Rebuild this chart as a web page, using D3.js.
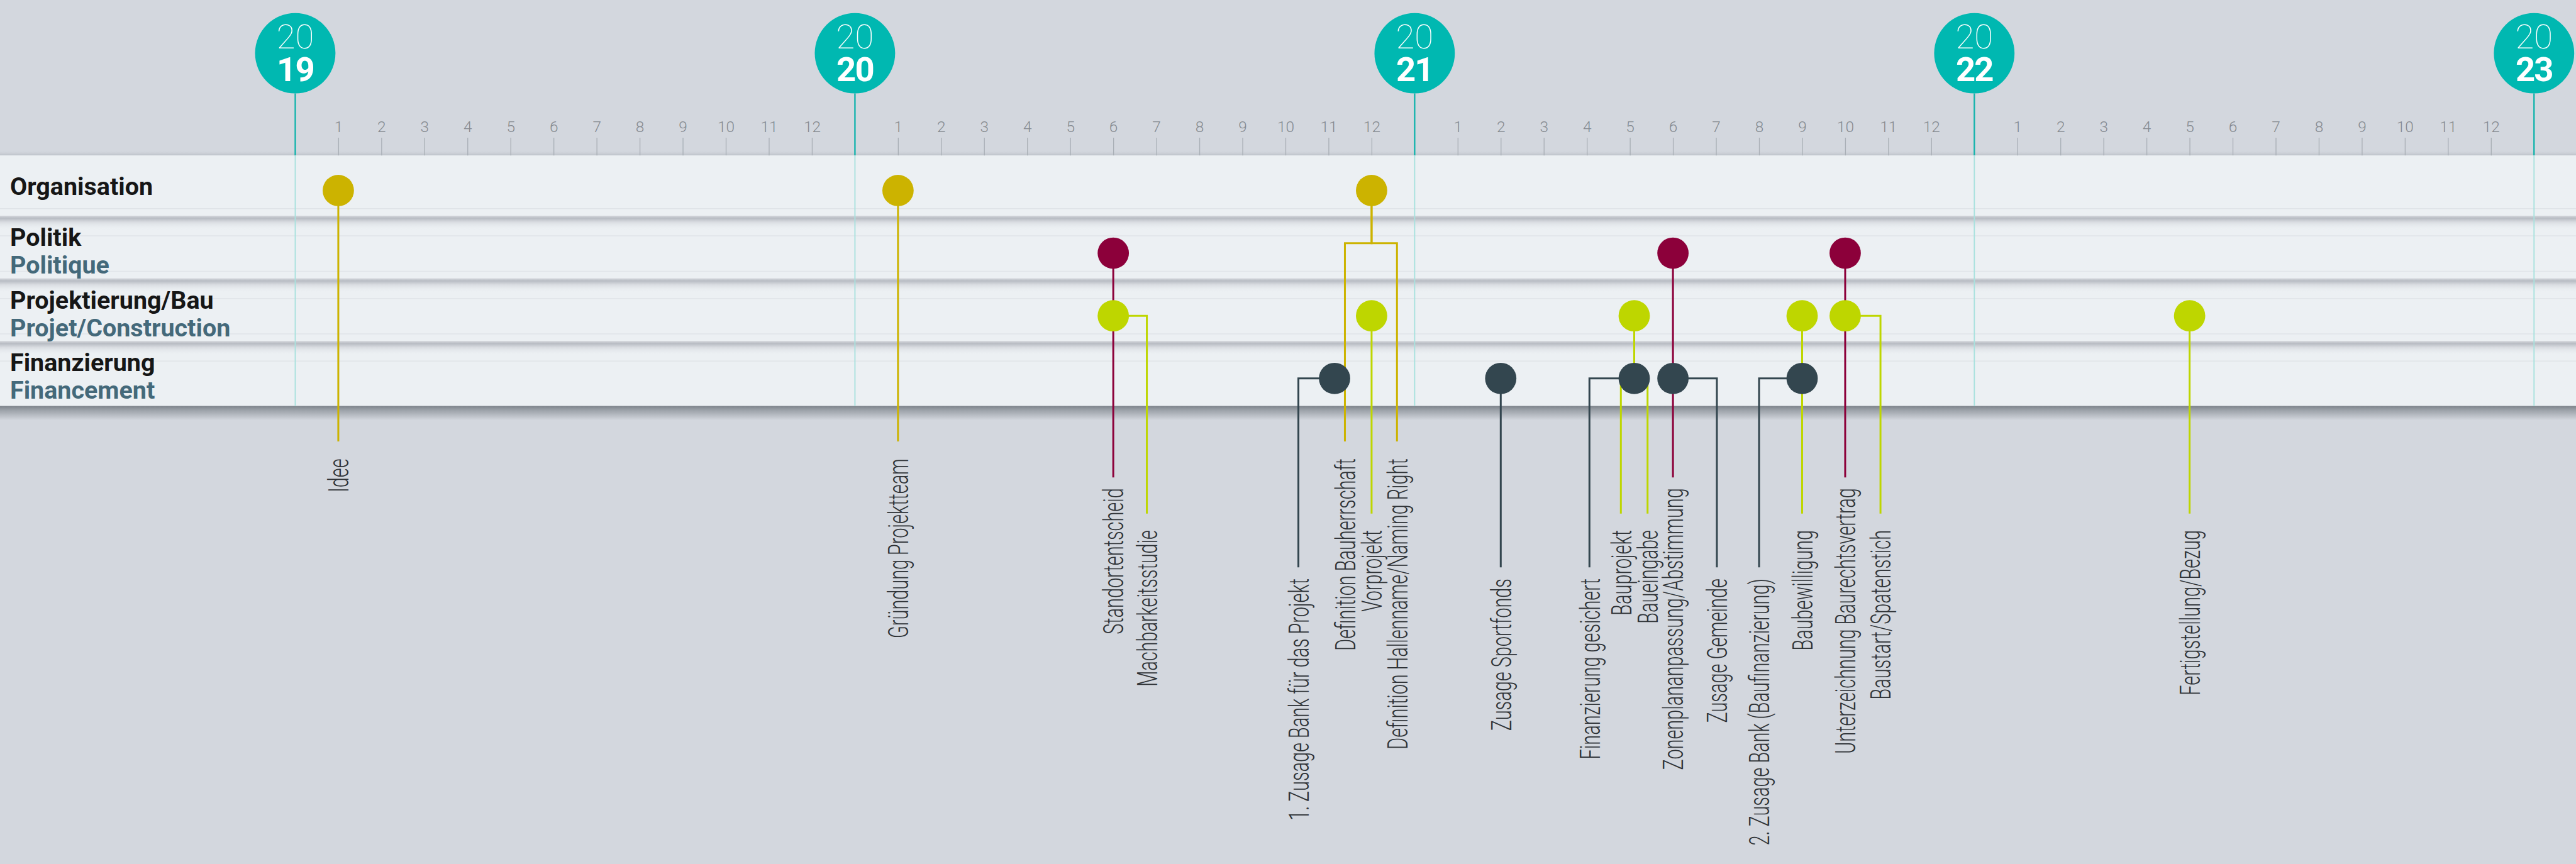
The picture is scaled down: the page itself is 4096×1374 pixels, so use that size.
<!DOCTYPE html>
<html>
<head>
<meta charset="utf-8">
<script src="https://cdn.jsdelivr.net/npm/d3@7"></script>
<style>
  html, body { margin: 0; padding: 0; background: #d3d7de; overflow: hidden; }
  svg { display: block; }
</style>
</head>
<body>
<script>
// ---- data ----
const years = [2019, 2020, 2021, 2022, 2023];
const monthTicks = ["1", "2", "3", "4", "5", "6", "7", "8", "9", "10", "11", "12"];

const rows = ["Organisation", "Politik", "Projektierung/Bau", "Finanzierung"];
const rowsFr = ["", "Politique", "Projet/Construction", "Financement"];
const rowColors = ["#ccb300", "#8c003a", "#bed600", "#33464f"];

// month can be fractional (position inside the month)
// lead: where the label line drops, in months relative to the dot
// split: row position (row index + fraction) where a shared stem forks
const milestones = [
  { label: "Idee", row: "Organisation", year: 2019, month: 1 },
  { label: "Gründung Projektteam", row: "Organisation", year: 2020, month: 1 },
  { label: "Definition Bauherrschaft", row: "Organisation", year: 2020, month: 12, lead: -0.62, split: 1.4 },
  { label: "Definition Hallenname/Naming Right", row: "Organisation", year: 2020, month: 12, lead: 0.59, split: 1.4 },
  { label: "Standortentscheid", row: "Politik", year: 2020, month: 6 },
  { label: "Machbarkeitsstudie", row: "Projektierung/Bau", year: 2020, month: 6, lead: 0.78 },
  { label: "Vorprojekt", row: "Projektierung/Bau", year: 2020, month: 12 },
  { label: "1. Zusage Bank für das Projekt", row: "Finanzierung", year: 2020, month: 11.14, lead: -0.84 },
  { label: "Zusage Sportfonds", row: "Finanzierung", year: 2021, month: 2 },
  { label: "Finanzierung gesichert", row: "Finanzierung", year: 2021, month: 5.1, lead: -1.04 },
  { label: "Bauprojekt", row: "Projektierung/Bau", year: 2021, month: 5.1, lead: -0.31, split: 3.56 },
  { label: "Baueingabe", row: "Projektierung/Bau", year: 2021, month: 5.1, lead: 0.31, split: 3.56 },
  { label: "Zonenplananpassung/Abstimmung", row: "Politik", year: 2021, month: 6 },
  { label: "Zusage Gemeinde", row: "Finanzierung", year: 2021, month: 6, lead: 1.02 },
  { label: "2. Zusage Bank (Baufinanzierung)", row: "Finanzierung", year: 2021, month: 9, lead: -1.0 },
  { label: "Baubewilligung", row: "Projektierung/Bau", year: 2021, month: 9 },
  { label: "Unterzeichnung Baurechtsvertrag", row: "Politik", year: 2021, month: 10 },
  { label: "Baustart/Spatenstich", row: "Projektierung/Bau", year: 2021, month: 10, lead: 0.82 },
  { label: "Fertigstellung/Bezug", row: "Projektierung/Bau", year: 2022, month: 5 }
];

// ---- layout (reference units, scaled by the viewBox) ----
const W = 4358, H = 1462;
const bandTop = 263, bandBottom = 687;
const dotLevel = 0.56;
const stemEnd = [747, 808, 869, 960];
const labelTop = [776, 826, 897, 979];
const condense = 0.64;

const svg = d3.select('body')
    .append('svg')
    .attr('width', window.innerWidth)
    .attr('height', window.innerHeight)
    .attr('viewBox', `0 0 ${W} ${H}`)
    .attr('preserveAspectRatio', 'none');

const slot = (year, month) => (year - years[0]) * 13 + month;
const x = d3.scaleLinear()
    .domain([0, (years.length - 1) * 13])
    .range([499.5, 4287]);
const rowY = d3.scaleLinear().domain([0, rows.length]).range([bandTop, bandBottom]);
const rowIndex = (d) => rows.indexOf(d.row);

const defs = svg.append('defs');
const grad = (id, stops) => {
    const lg = defs.append('linearGradient').attr('id', id)
        .attr('x1', 0).attr('y1', 0).attr('x2', 0).attr('y2', 1);
    stops.forEach(([o, c, a]) => lg.append('stop')
        .attr('offset', o).attr('stop-color', c).attr('stop-opacity', a));
};
grad('sep', [[0, '#d5d8dd', 1], [0.18, '#b8bcc3', 1], [0.45, '#d9dce1', 1], [1, '#ecf0f3', 0]]);
grad('topEdge', [[0, '#d3d7de', 0], [1, '#bcc1c8', 1]]);
grad('bottomEdge', [[0, '#7e848b', 1], [0.3, '#9ca2a9', 1], [1, '#d3d7de', 1]]);

// background
svg.append('rect').attr('width', W).attr('height', H).attr('fill', '#d3d7de');

// bands
svg.append('rect').attr('x', 0).attr('y', bandTop - 9).attr('width', W).attr('height', 9)
    .attr('fill', 'url(#topEdge)');
svg.append('rect').attr('x', 0).attr('y', bandTop).attr('width', W)
    .attr('height', bandBottom - bandTop).attr('fill', '#ecf0f3');

const faint = svg.append('g').attr('stroke', '#e0e4e8').attr('stroke-width', 1.5);
d3.range(1, rows.length).forEach((i) => {
    faint.append('line').attr('x1', 0).attr('x2', W)
        .attr('y1', rowY(i) - 16).attr('y2', rowY(i) - 16);
    faint.append('line').attr('x1', 0).attr('x2', W)
        .attr('y1', rowY(i) + 30).attr('y2', rowY(i) + 30);
    svg.append('rect').attr('x', 0).attr('y', rowY(i) - 4).attr('width', W).attr('height', 24)
        .attr('fill', 'url(#sep)');
});
svg.append('rect').attr('x', 0).attr('y', bandBottom).attr('width', W).attr('height', 24)
    .attr('fill', 'url(#bottomEdge)');

// month axis
const monthSlots = d3.range(years.length - 1).flatMap((k) => d3.range(1, 13).map((m) => k * 13 + m));
const axis = svg.append('g')
    .attr('transform', `translate(0,${bandTop})`)
    .call(d3.axisTop(x)
        .tickValues(monthSlots)
        .tickFormat((d) => monthTicks[(d % 13) - 1])
        .tickSize(30)
        .tickPadding(10));
axis.select('.domain').remove();
axis.selectAll('line').attr('stroke', '#a9afb6').attr('stroke-width', 1.4);
axis.selectAll('text')
    .attr('fill', '#858a90')
    .attr('font-family', 'Roboto, sans-serif')
    .attr('font-weight', 300)
    .attr('font-size', 26);

// year markers
const yr = svg.append('g')
    .selectAll('g')
    .data(years)
    .join('g')
    .attr('transform', (d, i) => `translate(${x(i * 13)},0)`);
yr.append('line').attr('y1', 158).attr('y2', bandTop)
    .attr('stroke', '#12b3ac').attr('stroke-width', 2.5);
yr.append('line').attr('y1', bandTop).attr('y2', bandBottom)
    .attr('stroke', '#a8e1de').attr('stroke-width', 2);
yr.append('circle').attr('cy', 90).attr('r', 68).attr('fill', '#00b8b1');
const yt = yr.append('text')
    .attr('text-anchor', 'middle')
    .attr('fill', '#ffffff')
    .attr('font-family', 'Roboto, sans-serif')
    .attr('font-size', 58);
yt.append('tspan')
    .attr('x', 0).attr('y', 82)
    .attr('font-weight', 100)
    .text((d) => String(d).slice(0, 2));
yt.append('tspan')
    .attr('x', 0).attr('y', 137)
    .attr('font-weight', 700)
    .attr('letter-spacing', -2)
    .text((d) => String(d).slice(2));

// row labels
const rl = svg.append('g')
    .selectAll('g')
    .data(rows)
    .join('g')
    .attr('font-family', 'Roboto, sans-serif')
    .attr('font-weight', 700)
    .attr('font-size', 42);
rl.append('text')
    .attr('x', 17)
    .attr('y', (d, i) => rowY(i) + (rowsFr[i] ? 47 : 67))
    .attr('fill', '#161616')
    .text((d) => d);
rl.append('text')
    .attr('x', 17)
    .attr('y', (d, i) => rowY(i) + 94)
    .attr('fill', '#44697a')
    .text((d, i) => rowsFr[i]);

// stems
const stemPath = (d) => {
    const ri = rowIndex(d);
    const s = slot(d.year, d.month);
    const x0 = x(s), y0 = rowY(ri + dotLevel);
    const xl = x(s + (d.lead || 0));
    const p = d3.path();
    p.moveTo(x0, y0);
    if (d.split != null) {
        const ys = rowY(d.split);
        p.lineTo(x0, ys);
        p.lineTo(xl, ys);
    } else {
        p.lineTo(xl, y0);
    }
    p.lineTo(xl, stemEnd[ri]);
    return p.toString();
};

svg.append('g')
    .selectAll('path')
    .data(milestones)
    .join('path')
    .attr('d', stemPath)
    .attr('fill', 'none')
    .attr('stroke', (d) => rowColors[rowIndex(d)])
    .attr('stroke-width', 3.2)
    .attr('stroke-linejoin', 'miter');

// dots (shared where several milestones sit on the same spot)
const dots = Array.from(
    d3.group(milestones, (d) => `${d.row}|${slot(d.year, d.month)}`).values(),
    (g) => g[0]
);
svg.append('g')
    .selectAll('circle')
    .data(dots)
    .join('circle')
    .attr('cx', (d) => x(slot(d.year, d.month)))
    .attr('cy', (d) => rowY(rowIndex(d) + dotLevel))
    .attr('r', 26.5)
    .attr('fill', (d) => rowColors[rowIndex(d)]);

// milestone labels
svg.append('g')
    .selectAll('text')
    .data(milestones)
    .join('text')
    .attr('transform', (d) =>
        `translate(${x(slot(d.year, d.month) + (d.lead || 0))},${labelTop[rowIndex(d)]}) rotate(-90) scale(${condense},1)`)
    .attr('text-anchor', 'end')
    .attr('dy', '0.36em')
    .attr('fill', '#2e3236')
    .attr('font-family', 'Roboto, sans-serif')
    .attr('font-weight', 300)
    .attr('font-size', 48)
    .text((d) => d.label);
</script>
</body>
</html>
